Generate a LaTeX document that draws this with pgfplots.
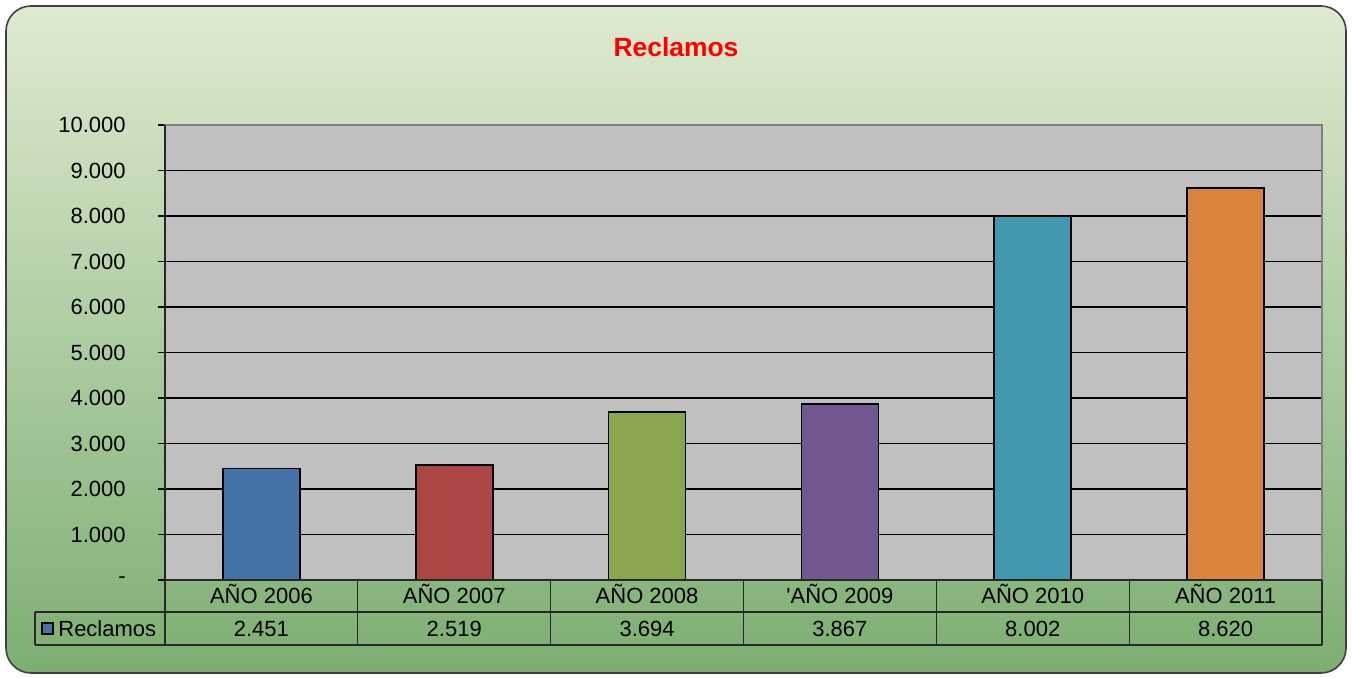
\documentclass[border=0pt]{standalone}
\usepackage{pgfplots}
\pgfplotsset{compat=1.18}
\usepackage{pgfplotstable}
\usepackage{fontspec}
\setmainfont{Liberation Sans}
\definecolor{bgtop}{RGB}{223,234,209}
\definecolor{bgbot}{RGB}{124,174,114}
\definecolor{plotbg}{RGB}{192,192,192}
\definecolor{c1}{RGB}{69,114,167}
\definecolor{c2}{RGB}{170,70,67}
\definecolor{c3}{RGB}{137,165,78}
\definecolor{c4}{RGB}{113,88,143}
\definecolor{c5}{RGB}{65,152,175}
\definecolor{c6}{RGB}{219,132,61}
\definecolor{tline}{RGB}{40,40,40}
\pgfplotstableread{
x y
0 2451
1 2519
2 3694
3 3867
4 8002
5 8620
}\data
\begin{document}
\begin{tikzpicture}
\useasboundingbox (0pt,0pt) rectangle (676pt,338.5pt);
\shadedraw[rounded corners=12.5pt, top color=bgtop, bottom color=bgbot, draw=black!75, line width=0.8pt] (3pt,2pt) rectangle (673pt,335.5pt);
\node[font=\bfseries\fontsize{13.2}{16}\selectfont, text=red] at (338pt,315pt) {Reclamos};
\begin{axis}[
  at={(82.5pt,48.5pt)}, anchor=south west,
  scale only axis, width=578.5pt, height=227.5pt,
  xmin=-0.5, xmax=5.5, ymin=0, ymax=10000,
  clip=false, scaled y ticks=false,
  axis background/.style={fill=plotbg},
  axis line style={draw=gray, line width=0.8pt},
  ymajorgrids, major grid style={black, line width=0.6pt},
  ytick={0,1000,2000,3000,4000,5000,6000,7000,8000,9000,10000},
  yticklabels={{-\hspace{6.5pt}},1.000,2.000,3.000,4.000,5.000,6.000,7.000,8.000,9.000,10.000},
  ytick pos=left, tick align=outside, major tick length=3.5pt,
  ytick style={black, line width=0.6pt},
  xtick={0,1,2,3,4,5},
  xticklabels={AÑO 2006, AÑO 2007, AÑO 2008, \textquotesingle AÑO 2009, AÑO 2010, AÑO 2011},
  xtick style={draw=none}, xtick pos=bottom,
  ticklabel style={font=\fontsize{11}{13}\selectfont, text=black},
  yticklabel style={anchor=east, inner sep=0pt, xshift=-16pt},
  xticklabel style={anchor=base, inner sep=0pt, yshift=-8pt},
  /pgf/number format/.cd, 1000 sep={.}, assume math mode=true,
]
\addplot[ybar, bar shift=0pt, bar width=38.5pt, fill=c1, draw=black, line width=0.9pt] coordinates {(0,2451)};
\addplot[ybar, bar shift=0pt, bar width=38.5pt, fill=c2, draw=black, line width=0.9pt] coordinates {(1,2519)};
\addplot[ybar, bar shift=0pt, bar width=38.5pt, fill=c3, draw=black, line width=0.9pt] coordinates {(2,3694)};
\addplot[ybar, bar shift=0pt, bar width=38.5pt, fill=c4, draw=black, line width=0.9pt] coordinates {(3,3867)};
\addplot[ybar, bar shift=0pt, bar width=38.5pt, fill=c5, draw=black, line width=0.9pt] coordinates {(4,8002)};
\addplot[ybar, bar shift=0pt, bar width=38.5pt, fill=c6, draw=black, line width=0.9pt] coordinates {(5,8620)};
% table value row
\addplot[draw=none, mark=none, nodes near coords, point meta=explicit,
  every node near coord/.append style={anchor=base, inner sep=0pt, font=\fontsize{11}{13}\selectfont, text=black}]
  table[x=x, y expr=-1231, meta=y] {\data};
% table grid
\draw[tline, line width=0.6pt] (axis cs:-0.5,0) -- (axis cs:5.5,0);
\draw[tline, line width=0.6pt] (axis cs:-1.174,-703) -- (axis cs:5.5,-703);
\draw[tline, line width=0.6pt] (axis cs:-1.174,-1429) -- (axis cs:5.5,-1429);
\draw[tline, line width=0.6pt] (axis cs:-1.174,-703) -- (axis cs:-1.174,-1429);
\pgfplotsinvokeforeach{-0.5,0.5,1.5,2.5,3.5,4.5,5.5}{
  \draw[tline, line width=0.6pt] (axis cs:#1,0) -- (axis cs:#1,-1429);
}
\draw[black!85, line width=0.8pt] (axis cs:-0.5,0) -- (axis cs:-0.5,10000);
% legend key in table
\node[draw=black, fill=c1, minimum size=5.5pt, inner sep=0pt, line width=0.6pt] at (axis cs:-1.109,-1066) {};
\node[anchor=base west, inner sep=0pt, font=\fontsize{11}{13}\selectfont] at (axis cs:-1.055,-1231) {Reclamos};
\end{axis}
\end{tikzpicture}
\end{document}
